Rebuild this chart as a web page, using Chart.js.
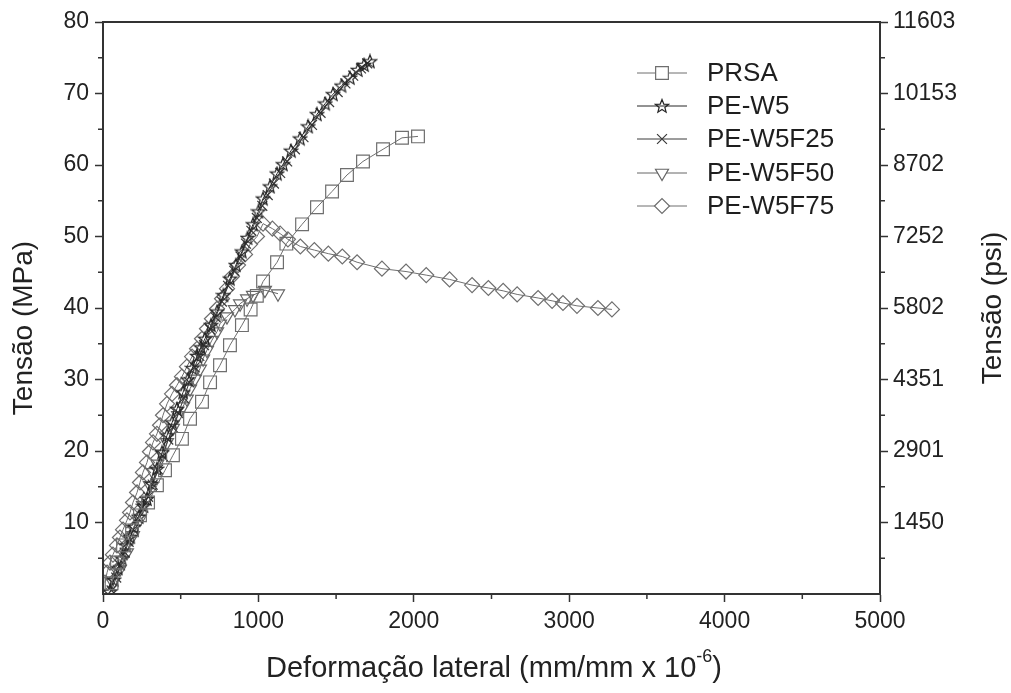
<!DOCTYPE html>
<html>
<head>
<meta charset="utf-8">
<script src="https://cdn.jsdelivr.net/npm/chart.js@4/dist/chart.umd.min.js"></script>
<style>
html,body{margin:0;padding:0;background:#fff;}
#wrap{width:1011px;height:693px;position:relative;}
</style>
</head>
<body>
<div id="wrap"><canvas id="c" width="1011" height="693"></canvas></div>
<script>
// ---- data (strain in mm/mm x 1e-6, stress in MPa) ----
const seriesNames = ['PRSA', 'PE-W5', 'PE-W5F25', 'PE-W5F50', 'PE-W5F75'];

const prsaX = [55, 90, 129, 187, 238, 290, 347, 399, 450, 508, 560, 637, 689, 753, 817, 894, 950, 990, 1030, 1120, 1180, 1281, 1377, 1474, 1570, 1673, 1802, 1924, 2027];
const prsaY = [1.5, 4.4, 6.8, 8.9, 11.0, 12.8, 15.2, 17.3, 19.4, 21.7, 24.5, 26.9, 29.6, 32.0, 34.8, 37.6, 39.8, 41.7, 43.7, 46.4, 49.0, 51.7, 54.1, 56.3, 58.6, 60.5, 62.2, 63.8, 64.0];

const w5X = [45, 70, 95, 120, 150, 175, 200, 230, 260, 283, 315, 347, 380, 412, 445, 476, 515, 545, 575, 605, 630, 656, 695, 734, 775, 817, 855, 894, 930, 965, 1000, 1030, 1075, 1120, 1158, 1210, 1268, 1320, 1377, 1430, 1480, 1535, 1589, 1640, 1680, 1718];
const w5Y = [0.3, 2.0, 3.6, 5.0, 6.8, 8.0, 9.4, 10.8, 12.3, 13.3, 15.4, 17.5, 19.8, 22.2, 24.0, 25.9, 28.2, 30.0, 31.6, 33.3, 34.5, 35.7, 37.6, 39.5, 41.8, 44.1, 46.0, 47.9, 49.8, 51.7, 53.5, 55.3, 57.0, 58.8, 60.1, 62.0, 63.7, 65.4, 67.1, 68.6, 69.9, 71.1, 72.2, 73.3, 74.0, 74.5];

const f25X = [55, 85, 110, 140, 165, 195, 225, 255, 290, 320, 355, 385, 420, 450, 485, 520, 555, 590, 620, 650, 690, 725, 765, 805, 845, 885, 920, 955, 990, 1025, 1060, 1100, 1140, 1185, 1235, 1290, 1345, 1400, 1455, 1510, 1560, 1610, 1660, 1700];
const f25Y = [0.5, 2.3, 4.0, 5.8, 7.3, 9.0, 10.6, 12.1, 13.6, 15.3, 17.4, 19.3, 21.6, 23.3, 25.3, 27.4, 29.6, 31.7, 33.3, 34.8, 37.0, 38.7, 40.9, 43.1, 45.2, 47.2, 49.0, 50.8, 52.6, 54.3, 55.8, 57.4, 58.9, 60.5, 62.2, 63.9, 65.6, 67.3, 68.8, 70.2, 71.4, 72.5, 73.5, 74.2];

const f50X = [64, 109, 154, 193, 238, 257, 302, 322, 350, 380, 412, 450, 483, 515, 540, 560, 592, 624, 644, 669, 701, 734, 753, 798, 849, 882, 927, 965, 1042, 1126];
const f50Y = [1.6, 3.5, 5.8, 8.2, 10.5, 12.4, 15.2, 17.0, 18.2, 19.6, 21.2, 23.2, 25.0, 26.2, 27.3, 28.7, 30.1, 31.5, 32.9, 34.1, 35.5, 36.7, 37.8, 38.8, 39.8, 40.6, 41.3, 41.8, 42.5, 42.0];

const f75X = [13, 26, 45, 64, 90, 109, 129, 154, 174, 193, 219, 238, 257, 283, 302, 322, 347, 367, 386, 412, 444, 476, 508, 540, 573, 605, 637, 669, 701, 734, 766, 798, 830, 869, 914, 946, 991, 1030, 1090, 1140, 1190, 1270, 1360, 1450, 1540, 1635, 1795, 1950, 2080, 2230, 2375, 2480, 2575, 2665, 2800, 2890, 2960, 3050, 3185, 3275];
const f75Y = [1.6, 3.0, 4.4, 5.5, 6.8, 7.9, 9.0, 10.3, 11.4, 12.8, 14.2, 15.6, 17.0, 18.4, 19.9, 21.2, 22.4, 23.6, 25.0, 26.6, 28.0, 29.2, 30.4, 31.8, 33.2, 34.3, 35.7, 37.1, 38.5, 39.9, 41.3, 42.7, 44.4, 46.0, 47.5, 48.9, 50.0, 51.8, 51.1, 50.4, 49.6, 48.6, 48.1, 47.6, 47.2, 46.4, 45.5, 45.1, 44.6, 44.0, 43.2, 42.8, 42.4, 41.9, 41.4, 41.0, 40.7, 40.3, 40.0, 39.8];

// tick labels
const xTickValues = [0, 1000, 2000, 3000, 4000, 5000];
const xTickLabels = ['0', '1000', '2000', '3000', '4000', '5000'];
const mpaTickValues = [10, 20, 30, 40, 50, 60, 70, 80];
const mpaTickLabels = ['10', '20', '30', '40', '50', '60', '70', '80'];
const psiTickLabels = ['1450', '2901', '4351', '5802', '7252', '8702', '10153', '11603'];

const xTitle = 'Deformação lateral (mm/mm x 10';
const xTitleSup = '-6';
const yTitleLeft = 'Tensão (MPa)';
const yTitleRight = 'Tensão (psi)';

// ---- marker images ----
function starCanvas(color) {
  const s = 16, c = document.createElement('canvas');
  c.width = s; c.height = s;
  const g = c.getContext('2d');
  g.strokeStyle = color; g.lineWidth = 1.2;
  g.beginPath();
  const R = 7, r = 3.0, cx = s / 2, cy = s / 2 + 0.5;
  for (let i = 0; i < 10; i++) {
    const a = -Math.PI / 2 + i * Math.PI / 5;
    const rad = i % 2 === 0 ? R : r;
    const px = cx + rad * Math.cos(a), py = cy + rad * Math.sin(a);
    if (i === 0) g.moveTo(px, py); else g.lineTo(px, py);
  }
  g.closePath(); g.stroke();
  return c;
}
const starImg = starCanvas('#262626');

function pts(xs, ys) { return xs.map((x, i) => ({ x: x, y: ys[i] })); }

const styles = [
  { color: '#6e6e6e', pointStyle: 'rect', radius: 9, rotation: 0 },
  { color: '#262626', pointStyle: starImg, radius: 7, rotation: 0 },
  { color: '#3a3a3a', pointStyle: 'crossRot', radius: 7, rotation: 0 },
  { color: '#666666', pointStyle: 'triangle', radius: 7.5, rotation: 180 },
  { color: '#6e6e6e', pointStyle: 'rectRot', radius: 7.5, rotation: 0 }
];
const dataArr = [pts(prsaX, prsaY), pts(w5X, w5Y), pts(f25X, f25Y), pts(f50X, f50Y), pts(f75X, f75Y)];

const datasets = seriesNames.map((n, i) => ({
  label: n,
  data: dataArr[i],
  showLine: true,
  borderColor: styles[i].color,
  borderWidth: 1,
  pointStyle: styles[i].pointStyle,
  pointRadius: styles[i].radius,
  pointRotation: styles[i].rotation,
  pointBorderColor: styles[i].color,
  pointBorderWidth: 1.2,
  pointBackgroundColor: 'rgba(0,0,0,0)',
  pointHoverRadius: styles[i].radius
}));

const FONT = 'Liberation Sans, Arial, sans-serif';
const AXIS = '#333';
const TITLE_SIZE = 29;

const decor = {
  id: 'decor',
  afterDraw(chart) {
    const ctx = chart.ctx, a = chart.chartArea;
    const xs = chart.scales.x, yl = chart.scales.y;
    ctx.save();
    // frame
    ctx.strokeStyle = AXIS; ctx.lineWidth = 2;
    ctx.strokeRect(a.left, a.top, a.right - a.left, a.bottom - a.top);
    // minor ticks
    ctx.lineWidth = 1.5;
    ctx.beginPath();
    for (let v = 500; v < 5000; v += 1000) {
      const px = xs.getPixelForValue(v);
      ctx.moveTo(px, a.bottom); ctx.lineTo(px, a.bottom + 5);
    }
    for (let v = 5; v < 80; v += 10) {
      const py = yl.getPixelForValue(v);
      ctx.moveTo(a.left, py); ctx.lineTo(a.left - 5, py);
      ctx.moveTo(a.right, py); ctx.lineTo(a.right + 5, py);
    }
    ctx.stroke();
    // titles
    ctx.fillStyle = '#222';
    ctx.textBaseline = 'middle';
    const big = TITLE_SIZE + 'px ' + FONT, small = Math.round(TITLE_SIZE * 0.62) + 'px ' + FONT;
    ctx.font = big;
    ctx.textAlign = 'left';
    const w1 = ctx.measureText(xTitle).width;
    ctx.font = small;
    const w2 = ctx.measureText(xTitleSup).width;
    ctx.font = big;
    const w3 = ctx.measureText(')').width;
    const total = w1 + w2 + w3;
    const cx = 494, cy = 669;
    const sx = cx - total / 2;
    ctx.fillText(xTitle, sx, cy);
    ctx.font = small;
    ctx.fillText(xTitleSup, sx + w1, cy - 12);
    ctx.font = big;
    ctx.fillText(')', sx + w1 + w2, cy);

    ctx.font = '28px ' + FONT;
    ctx.textAlign = 'center';
    ctx.save();
    ctx.translate(24, 328); ctx.rotate(-Math.PI / 2);
    ctx.fillText(yTitleLeft, 0, 0);
    ctx.restore();
    ctx.save();
    ctx.translate(993, 308); ctx.rotate(-Math.PI / 2);
    ctx.fillText(yTitleRight, 0, 0);
    ctx.restore();

    // legend
    const lx0 = 637, lx1 = 687, tx = 707;
    const rows = [73, 106, 139, 173, 206];
    ctx.textAlign = 'left';
    chart.data.datasets.forEach((ds, i) => {
      const y = rows[i];
      ctx.strokeStyle = ds.borderColor; ctx.lineWidth = 1;
      ctx.beginPath(); ctx.moveTo(lx0, y); ctx.lineTo(lx1, y); ctx.stroke();
      ctx.lineWidth = 1.2;
      ctx.fillStyle = '#ffffff';
      ctx.strokeStyle = ds.pointBorderColor;
      Chart.helpers.drawPoint(ctx, {
        pointStyle: ds.pointStyle, radius: ds.pointRadius,
        rotation: ds.pointRotation, borderWidth: 1.2
      }, (lx0 + lx1) / 2, y);
      ctx.fillStyle = '#1e1e1e';
      ctx.font = '26px ' + FONT;
      ctx.fillText(ds.label, tx, y + 1);
    });
    ctx.restore();
  }
};

new Chart(document.getElementById('c'), {
  type: 'scatter',
  data: { datasets: datasets },
  plugins: [decor],
  options: {
    responsive: false,
    animation: false,
    layout: { padding: { top: 22, left: 0, right: 0, bottom: 0 } },
    plugins: { legend: { display: false }, tooltip: { enabled: false } },
    scales: {
      x: {
        type: 'linear', min: 0, max: 5000,
        afterBuildTicks(s) { s.ticks = xTickValues.map(v => ({ value: v })); },
        afterFit(s) { s.height = 99; },
        border: { color: AXIS, width: 2 },
        grid: { drawOnChartArea: false, drawTicks: true, tickLength: 8, tickColor: AXIS, tickWidth: 1.5 },
        ticks: { color: '#222', font: { family: FONT, size: 23 }, padding: 6, maxRotation: 0,
          callback: (v, i) => xTickLabels[i] }
      },
      y: {
        type: 'linear', position: 'left', min: 0, max: 80,
        afterBuildTicks(s) { s.ticks = mpaTickValues.map(v => ({ value: v })); },
        afterFit(s) { s.width = 103; },
        border: { color: AXIS, width: 2 },
        grid: { drawOnChartArea: false, tickLength: 8, tickColor: AXIS, tickWidth: 1.5 },
        ticks: { color: '#222', font: { family: FONT, size: 23 }, padding: 6,
          callback: (v, i) => mpaTickLabels[i] }
      },
      y2: {
        type: 'linear', position: 'right', min: 0, max: 80,
        afterBuildTicks(s) { s.ticks = mpaTickValues.map(v => ({ value: v })); },
        afterFit(s) { s.width = 131; },
        border: { color: AXIS, width: 2 },
        grid: { drawOnChartArea: false, tickLength: 8, tickColor: AXIS, tickWidth: 1.5 },
        ticks: {
          color: '#222', font: { family: FONT, size: 23 }, padding: 5,
          callback: (v, i) => psiTickLabels[i]
        }
      }
    }
  }
});
</script>
</body>
</html>
